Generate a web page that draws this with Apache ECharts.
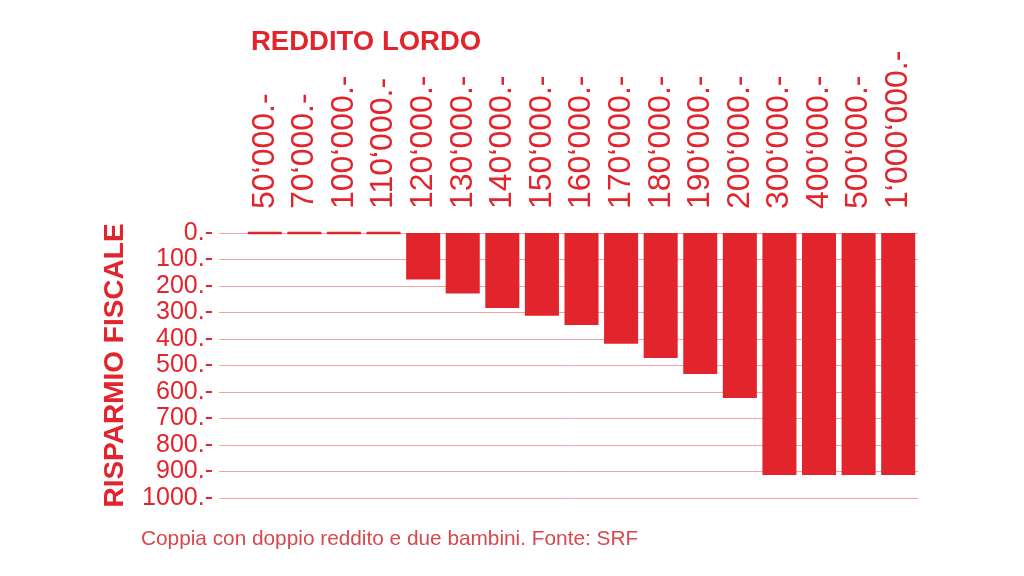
<!DOCTYPE html>
<html>
<head>
<meta charset="utf-8">
<script src="https://cdn.jsdelivr.net/npm/echarts@6/dist/echarts.min.js"></script>
<style>
  html, body { margin: 0; padding: 0; background: #fff; }
  #main { width: 1024px; height: 576px; }
</style>
</head>
<body>
<div id="main"></div>
<script>
// reddito lordo (categories) and risparmio fiscale (values, CHF)
var redditi = ['50‘000.-', '70‘000.-', '100‘000.-', '110‘000.-', '120‘000.-', '130‘000.-',
  '140‘000.-', '150‘000.-', '160‘000.-', '170‘000.-', '180‘000.-', '190‘000.-',
  '200‘000.-', '300‘000.-', '400‘000.-', '500‘000.-', '1‘000‘000.-'];
var risparmio = [0, 0, 0, 0, 175, 228, 283, 312, 347, 418, 472, 532, 623, 913, 913, 913, 913];
var yMax = 1000;
var yStep = 100;

var red = '#e2252c';
var font = 'Liberation Sans, Arial, Helvetica, sans-serif';

// zero bars are shown as a thin stroke at the axis
var barData = risparmio.map(function (v) {
  if (v === 0) {
    return { value: v, itemStyle: { borderWidth: 2.5, borderColor: red } };
  }
  return v;
});

var option = {
  animation: false,
  title: [
    {
      text: 'REDDITO LORDO',
      left: 246,
      top: 23,
      textStyle: { color: red, fontFamily: font, fontWeight: 'bold', fontSize: 27.5 }
    },
    {
      text: 'Coppia con doppio reddito e due bambini. Fonte: SRF',
      left: 136,
      top: 524,
      textStyle: { color: '#d8474d', fontFamily: font, fontWeight: 'normal', fontSize: 20.8 }
    }
  ],
  grid: [
    // gridlines + value labels (wider)
    { left: 219, right: 106, top: 233, bottom: 78 },
    // bars
    { left: 245, right: 106, top: 233, bottom: 78 }
  ],
  xAxis: [
    { type: 'value', gridIndex: 0, min: 0, max: 1, show: false },
    {
      type: 'category',
      gridIndex: 1,
      position: 'top',
      data: redditi,
      axisLine: { show: false },
      axisTick: { show: false },
      axisLabel: {
        rotate: 90,
        interval: 0,
        margin: 24,
        color: red,
        fontFamily: font,
        fontSize: 32
      }
    }
  ],
  yAxis: [
    {
      type: 'value',
      gridIndex: 0,
      inverse: true,
      min: 0,
      max: yMax,
      interval: yStep,
      name: 'RISPARMIO FISCALE',
      nameLocation: 'middle',
      nameRotate: 90,
      nameGap: 90,
      nameTextStyle: { color: red, fontFamily: font, fontWeight: 'bold', fontSize: 28 },
      axisLine: { show: false },
      axisTick: { show: false },
      axisLabel: {
        margin: 6,
        color: red,
        fontFamily: font,
        fontSize: 25,
        formatter: function (v) { return v + '.-'; }
      },
      splitLine: { show: true, lineStyle: { color: '#f0a2a5', width: 1 } }
    },
    {
      type: 'value',
      gridIndex: 1,
      inverse: true,
      min: 0,
      max: yMax,
      interval: yStep,
      show: false,
      splitLine: { show: false }
    }
  ],
  series: [
    {
      type: 'bar',
      xAxisIndex: 1,
      yAxisIndex: 1,
      data: barData,
      barCategoryGap: '14%',
      itemStyle: { color: red }
    }
  ]
};

var chart = echarts.init(document.getElementById('main'));
chart.setOption(option);
</script>
</body>
</html>
